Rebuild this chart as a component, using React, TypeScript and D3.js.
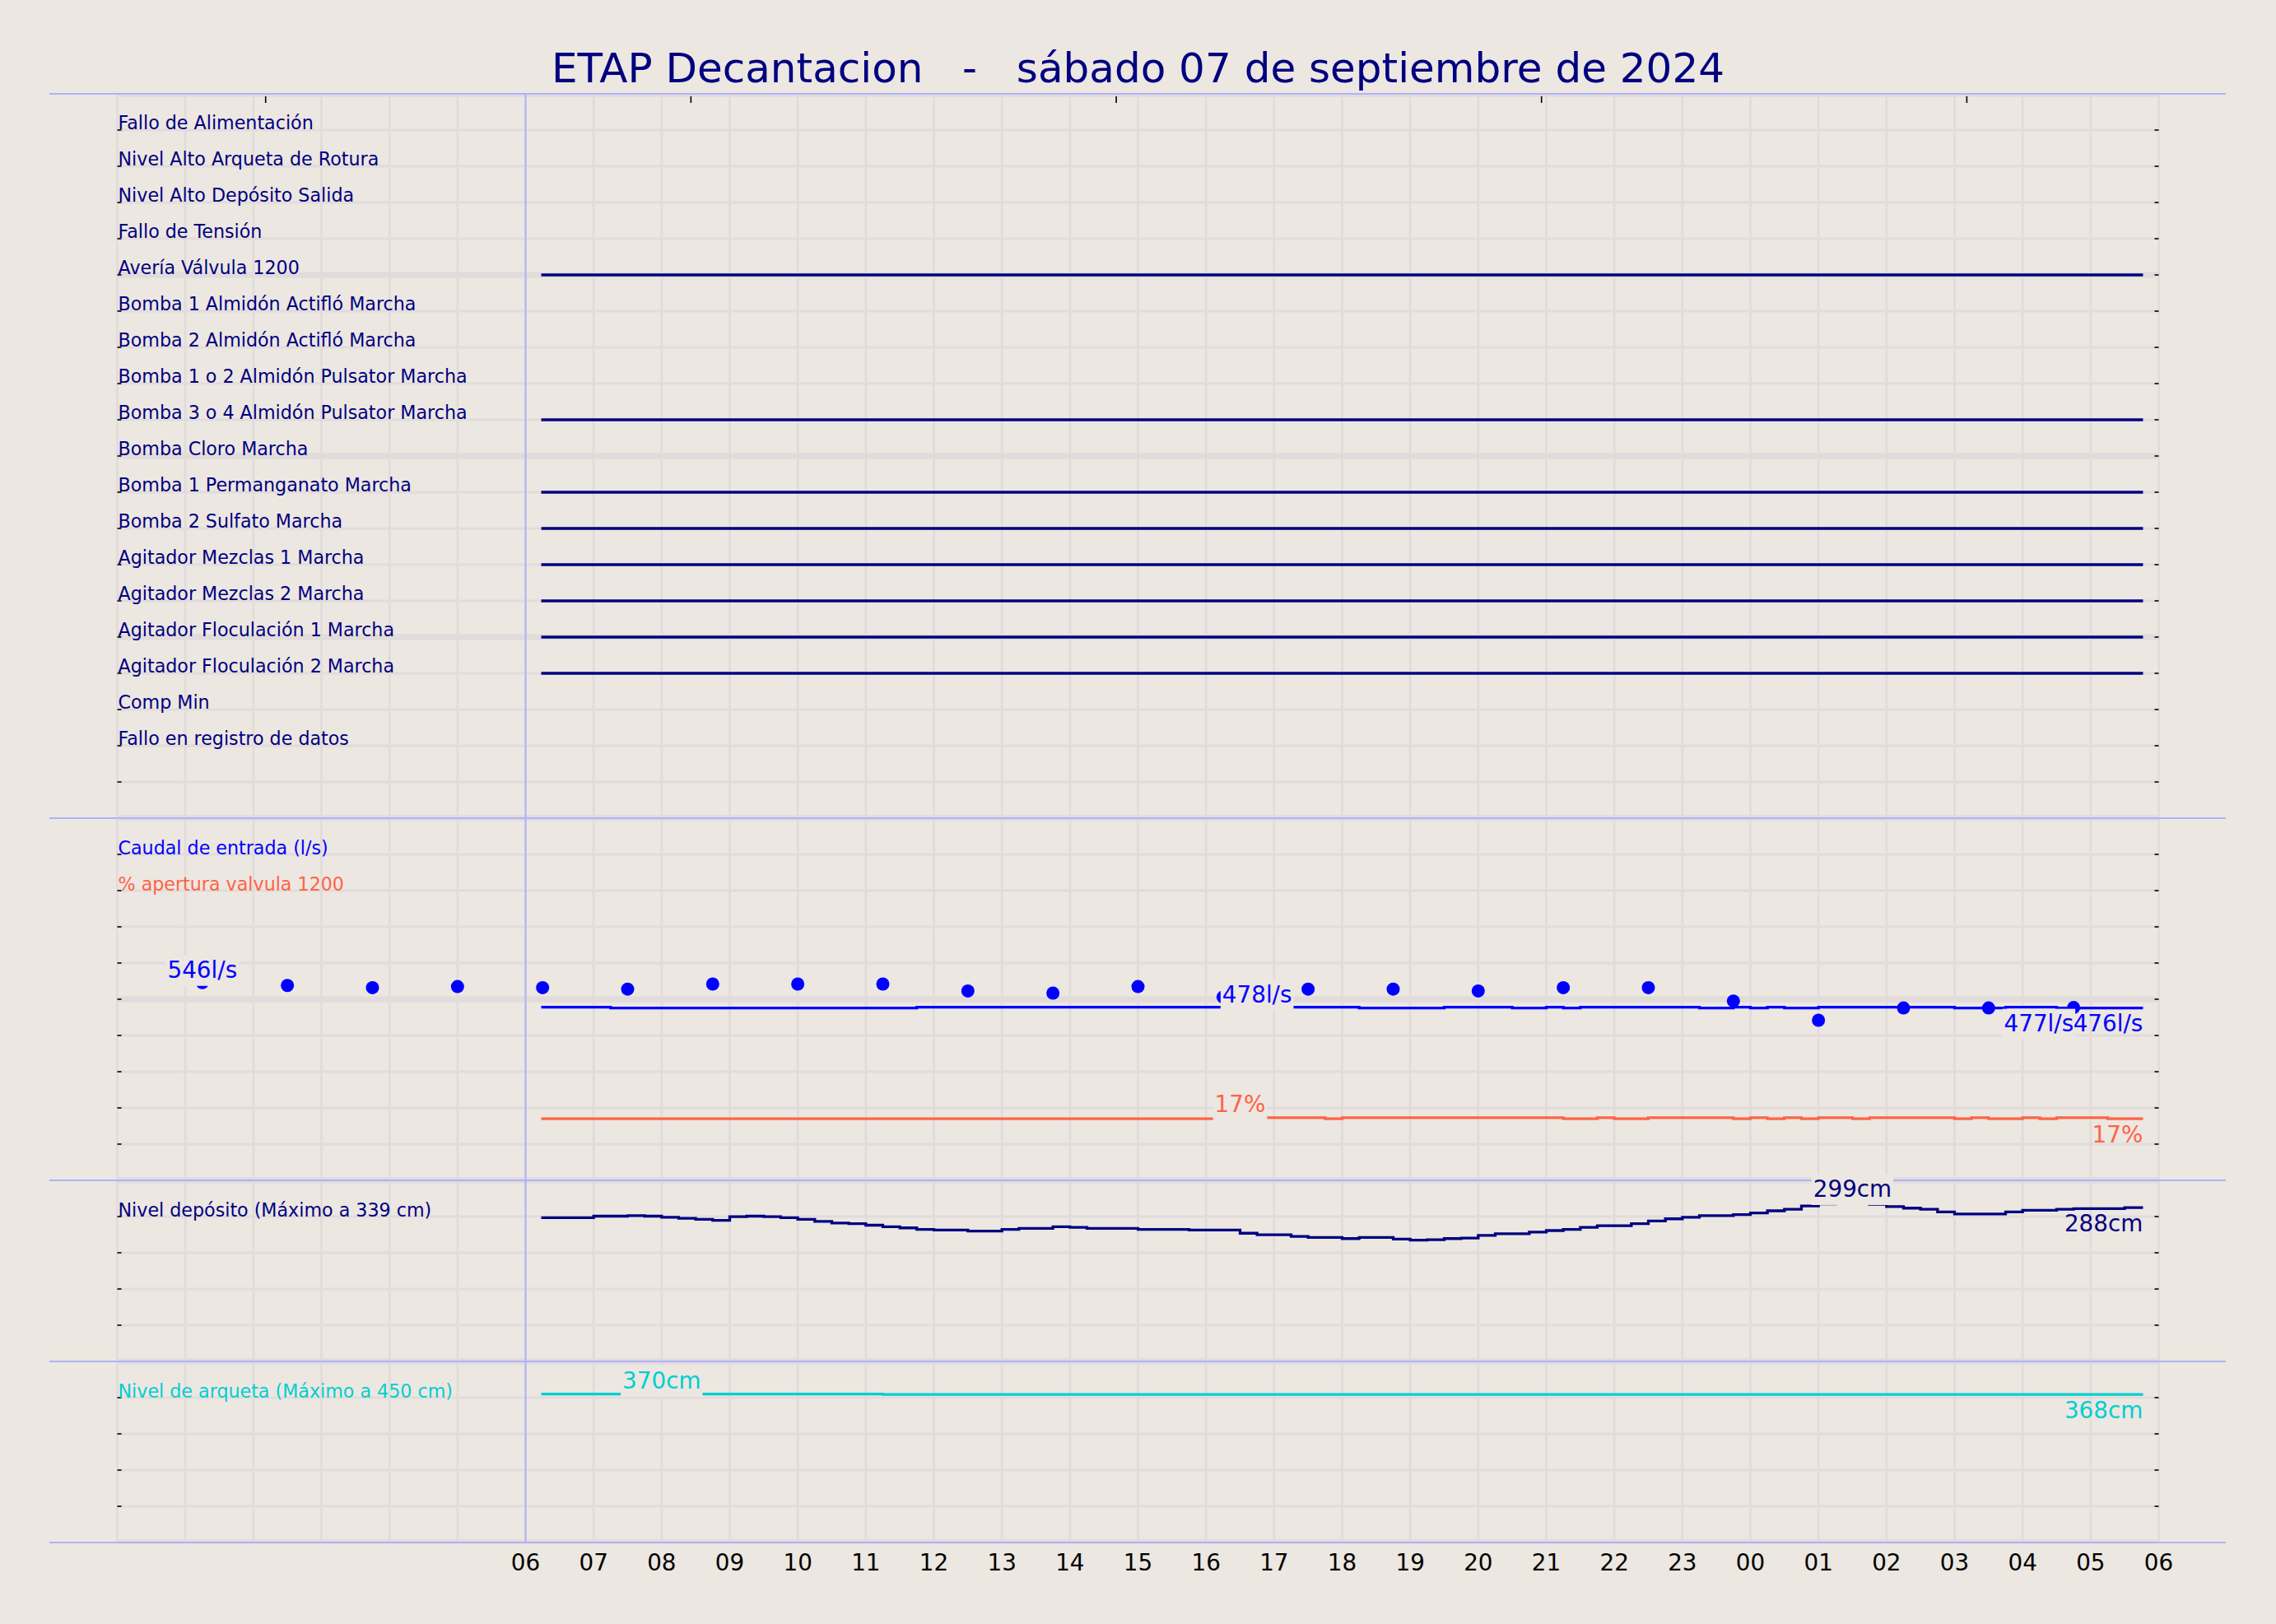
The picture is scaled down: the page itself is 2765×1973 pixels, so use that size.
import React, { useEffect, useRef } from 'react'
import * as d3 from 'd3'

// ---- datos ----
const TITLE = 'ETAP Decantacion   -   sábado 07 de septiembre de 2024'
const DAY0 = Date.UTC(2024, 8, 7) // 07/09/2024 00:00

const alarmLabels = [
	'Fallo de Alimentación',
	'Nivel Alto Arqueta de Rotura',
	'Nivel Alto Depósito Salida',
	'Fallo de Tensión',
	'Avería Válvula 1200',
	'Bomba 1 Almidón Actifló Marcha',
	'Bomba 2 Almidón Actifló Marcha',
	'Bomba 1 o 2 Almidón Pulsator Marcha',
	'Bomba 3 o 4 Almidón Pulsator Marcha',
	'Bomba Cloro Marcha',
	'Bomba 1 Permanganato Marcha',
	'Bomba 2 Sulfato Marcha',
	'Agitador Mezclas 1 Marcha',
	'Agitador Mezclas 2 Marcha',
	'Agitador Floculación 1 Marcha',
	'Agitador Floculación 2 Marcha',
	'Comp Min',
	'Fallo en registro de datos',
]
const alarmOn = [0, 0, 0, 0, 1, 0, 0, 0, 1, 0, 1, 1, 1, 1, 1, 1, 0, 0]

// registros cada 15 min desde las 06:15
const sampleStart = 6.25
const sampleStep = 0.25

const caudal = [
	478, 478, 478, 478, 476, 476, 476, 476, 476, 476,
	476, 476, 476, 476, 476, 476, 476, 476, 476, 476,
	476, 476, 478, 478, 478, 478, 478, 478, 478, 478,
	478, 478, 478, 478, 478, 478, 478, 478, 478, 478,
	478, 478, 478.3, 478, 478, 478, 478, 478, 476, 476,
	476, 476, 476, 478, 478, 478, 478, 476, 476, 478,
	476, 478, 478, 478, 478, 478, 478, 478, 476, 476,
	478, 476, 478, 476, 476, 478, 478, 478, 478, 478,
	478, 478, 478, 476, 476, 476, 478, 478, 478, 476,
	476, 476, 476, 476, 476,
]

const apertura = [
	17, 17, 17, 17, 17, 17, 17, 17, 17, 17,
	17, 17, 17, 17, 17, 17, 17, 17, 17, 17,
	17, 17, 17, 17, 17, 17, 17, 17, 17, 17,
	17, 17, 17, 17, 17, 17, 17, 17, 17, 17,
	17.3, 17.4, 17.3, 17.3, 17.3, 17.3, 17, 17.3, 17.3, 17.3,
	17.3, 17.3, 17.3, 17.3, 17.3, 17.3, 17.3, 17.3, 17.3, 17.3,
	17, 17, 17.3, 17, 17, 17.3, 17.3, 17.3, 17.3, 17.3,
	17, 17.3, 17, 17.3, 17, 17.3, 17.3, 17, 17.3, 17.3,
	17.3, 17.3, 17.3, 17, 17.3, 17, 17, 17.3, 17, 17.3,
	17.3, 17.3, 17, 17, 17,
]

const deposito = [
	269, 269, 269, 272, 272, 273, 272, 270, 268, 266,
	264, 271, 272, 271, 269, 266, 262, 259, 258, 255,
	252, 250, 247, 246, 246, 244, 244, 247, 249, 249,
	252, 251, 249, 249, 249, 247, 247, 247, 246, 246,
	246, 240, 237, 237, 234, 232, 232, 230, 232, 232,
	229, 227, 228, 230, 231, 236, 239, 239, 242, 245,
	247, 251, 254, 254, 258, 263, 267, 270, 273, 273,
	275, 278, 282, 285, 291, 295, 297, 299, 294, 290,
	287, 285, 280, 276, 276, 276, 280, 283, 283, 285,
	286, 286, 286, 288, 288,
]

const arqueta = [
	369, 369, 369, 369, 369, 369, 369, 370, 369, 369,
	369, 369, 369, 369, 369, 369, 369, 369, 369, 369,
	368, 368, 368, 368, 368, 368, 368, 368, 368, 368,
	368, 368, 368, 368, 368, 368, 368, 368, 368, 368,
	368, 368, 368, 368, 368, 368, 368, 368, 368, 368,
	368, 368, 368, 368, 368, 368, 368, 368, 368, 368,
	368, 368, 368, 368, 368, 368, 368, 368, 368, 368,
	368, 368, 368, 368, 368, 368, 368, 368, 368, 368,
	368, 368, 368, 368, 368, 368, 368, 368, 368, 368,
	368, 368, 368, 368, 368,
]

// caudal puntual (cada 75 min)
const dotHours = [1.25, 2.5, 3.75, 5, 6.25, 7.5, 8.75, 10, 11.25, 12.5, 13.75, 15, 16.25, 17.5, 18.75, 20, 21.25, 22.5, 23.75, 25, 26.25, 27.5, 28.75]
const dotValues = [546, 538, 532, 535, 532, 528, 542, 542, 542, 523, 517, 535, 506, 528, 528, 523, 532, 532, 495, 442, 476, 476, 477]

const xTickHours = [6, 7, 8, 9, 10, 11, 12, 13, 14, 15, 16, 17, 18, 19, 20, 21, 22, 23, 24, 25, 26, 27, 28, 29, 30]
const topTickHours = [2.18, 8.43, 14.68, 20.93, 27.18]

// ---- estilo ----
const W = 2765
const H = 1973
const BG = '#ECE7E1'
const GRID = '#E1DCDB'
const SEP = '#B0B0FF'
const NAVY = '#000080'
const BLUE = '#0000FF'
const TOMATO = '#FF6347'
const TURQ = '#00CED1'
const FONT = 'DejaVu Sans'

const hourDate = (h: number) => new Date(DAY0 + h * 3600e3)

const App = () => {
	const svgRef = useRef<SVGSVGElement>(null)

	useEffect(() => {
		const svg = d3.select(svgRef.current)
		svg.selectAll('*').remove()
		svg.attr('width', W).attr('height', H).style('font-family', FONT)

		const left = 142.5
		const right = 2622.5
		const top = 114
		const bottom = 1874

		const x = d3.scaleUtc().domain([hourDate(0), hourDate(30)]).range([left, right])
		const rowY = d3.scaleLinear().domain([0, 40]).range([top, bottom])

		const caudalY = d3.scaleLinear().domain([0, 1000]).range([rowY(30), rowY(20)])
		const pctY = d3.scaleLinear().domain([0, 100]).range([rowY(30), rowY(20)])
		const depY = d3.scaleLinear().domain([0, 339]).range([rowY(35), rowY(30)])
		const arqY = d3.scaleLinear().domain([0, 450]).range([rowY(40), rowY(35)])

		const samples = caudal.map((_, i) => hourDate(sampleStart + i * sampleStep))

		svg.append('rect').attr('width', W).attr('height', H).attr('fill', BG)

		// rejilla
		const grid = svg.append('g')
		grid
			.selectAll('.vgrid')
			.data(x.ticks(d3.utcHour.every(1)!))
			.enter()
			.append('line')
			.attr('x1', d => x(d))
			.attr('x2', d => x(d))
			.attr('y1', top)
			.attr('y2', bottom)
			.attr('stroke', GRID)
			.attr('stroke-width', 2.8)
		grid
			.selectAll('.hgrid')
			.data(d3.range(0, 41))
			.enter()
			.append('line')
			.attr('x1', left)
			.attr('x2', right)
			.attr('y1', d => rowY(d))
			.attr('y2', d => rowY(d))
			.attr('stroke', GRID)
			.attr('stroke-width', d => (d % 5 === 0 ? 7.5 : 2.8))
		// recortar bandas en los bordes
		svg.append('rect').attr('x', left).attr('y', top - 6).attr('width', right - left).attr('height', 6).attr('fill', BG)
		svg.append('rect').attr('x', left).attr('y', bottom + 1.5).attr('width', right - left).attr('height', 6).attr('fill', BG)

		// separadores
		const seps = [0, 20, 30, 35, 40]
		svg
			.selectAll('.sep')
			.data(seps)
			.enter()
			.append('line')
			.attr('x1', 60)
			.attr('x2', 2704)
			.attr('y1', d => rowY(d))
			.attr('y2', d => rowY(d))
			.attr('stroke', SEP)
			.attr('stroke-width', 2)
		svg
			.append('line')
			.attr('x1', x(hourDate(6)))
			.attr('x2', x(hourDate(6)))
			.attr('y1', top)
			.attr('y2', bottom)
			.attr('stroke', SEP)
			.attr('stroke-width', 2)

		// marcas de los ejes
		const tickRows = d3.range(1, 40).filter(r => !seps.includes(r))
		const ticks = svg.append('g').attr('stroke', '#000').attr('stroke-width', 1.6)
		tickRows.forEach(r => {
			ticks.append('line').attr('x1', left).attr('x2', left + 5).attr('y1', rowY(r)).attr('y2', rowY(r))
			ticks.append('line').attr('x1', right - 5).attr('x2', right).attr('y1', rowY(r)).attr('y2', rowY(r))
		})
		topTickHours.forEach(h => {
			ticks
				.append('line')
				.attr('x1', x(hourDate(h)))
				.attr('x2', x(hourDate(h)))
				.attr('y1', top + 3)
				.attr('y2', top + 11)
		})

		// etiquetas de alarmas
		const labels = svg.append('g').attr('font-size', 22.2)
		alarmLabels.forEach((name, i) => {
			labels
				.append('text')
				.attr('x', left + 1)
				.attr('y', rowY(i + 1) - 1)
				.attr('fill', NAVY)
				.text(name)
		})
		const panelText: [string, string, number][] = [
			['Caudal de entrada (l/s)', BLUE, 21],
			['% apertura valvula 1200', TOMATO, 22],
			['Nivel depósito (Máximo a 339 cm)', NAVY, 31],
			['Nivel de arqueta (Máximo a 450 cm)', TURQ, 36],
		]
		panelText.forEach(([t, c, r]) => {
			labels.append('text').attr('x', left + 1).attr('y', rowY(r) - 0.5).attr('fill', c).text(t)
		})

		// alarmas activas
		const alarmLine = d3
			.line<Date>()
			.x(d => x(d))
			.y(0)
		alarmOn.forEach((on, i) => {
			if (!on) return
			svg
				.append('path')
				.datum([samples[0], samples[samples.length - 1]])
				.attr('transform', `translate(0, ${rowY(i + 1)})`)
				.attr('d', alarmLine)
				.attr('fill', 'none')
				.attr('stroke', NAVY)
				.attr('stroke-width', 3.3)
				.attr('stroke-linecap', 'square')
		})

		// puntos de caudal
		svg
			.selectAll('.dot')
			.data(dotHours)
			.enter()
			.append('circle')
			.attr('cx', d => x(hourDate(d)))
			.attr('cy', (_, i) => caudalY(dotValues[i]))
			.attr('r', 8)
			.attr('fill', BLUE)

		const drawStep = (values: number[], y: d3.ScaleLinear<number, number>, color: string) => {
			const line = d3
				.line<number>()
				.x((_, i) => x(samples[i]))
				.y(d => y(d))
				.curve(d3.curveStepAfter)
			svg
				.append('path')
				.datum(values)
				.attr('d', line)
				.attr('fill', 'none')
				.attr('stroke', color)
				.attr('stroke-width', 3.3)
				.attr('stroke-linecap', 'square')
		}
		drawStep(caudal, caudalY, BLUE)
		drawStep(apertura, pctY, TOMATO)
		drawStep(deposito, depY, NAVY)
		drawStep(arqueta, arqY, TURQ)

		// anotaciones
		const notes = svg.append('g').attr('font-size', 27.8)
		const note = (px: number, py: number, text: string, color: string, anchor: string, box: boolean) => {
			const t = notes
				.append('text')
				.attr('x', px)
				.attr('y', py)
				.attr('text-anchor', anchor)
				.attr('fill', color)
				.text(text)
			if (box) {
				const bb = (t.node() as SVGTextElement).getBBox()
				notes
					.insert('rect', () => t.node())
					.attr('x', bb.x - 2)
					.attr('y', bb.y - 1)
					.attr('width', bb.width + 4)
					.attr('height', bb.height + 4)
					.attr('fill', BG)
			}
		}
		const maxNote = (values: number[], y: d3.ScaleLinear<number, number>, unit: string, color: string) => {
			const i = d3.maxIndex(values)
			note(x(samples[i]), y(values[i]) - 6, `${Math.round(values[i])}${unit}`, color, 'middle', true)
		}
		const lastNote = (values: number[], y: d3.ScaleLinear<number, number>, unit: string, color: string) => {
			const i = values.length - 1
			note(x(samples[i]) + 1.5, y(values[i]) + 28.5, `${Math.round(values[i])}${unit}`, color, 'end', false)
		}

		const di = d3.maxIndex(dotValues)
		note(x(hourDate(dotHours[di])), caudalY(dotValues[di]) - 6, `${dotValues[di]}l/s`, BLUE, 'middle', true)
		const dl = dotValues.length - 1
		note(x(hourDate(dotHours[dl])), caudalY(dotValues[dl]) + 28.5, `${dotValues[dl]}l/s`, BLUE, 'end', true)

		maxNote(caudal, caudalY, 'l/s', BLUE)
		lastNote(caudal, caudalY, 'l/s', BLUE)
		maxNote(apertura, pctY, '%', TOMATO)
		lastNote(apertura, pctY, '%', TOMATO)
		maxNote(deposito, depY, 'cm', NAVY)
		lastNote(deposito, depY, 'cm', NAVY)
		maxNote(arqueta, arqY, 'cm', TURQ)
		lastNote(arqueta, arqY, 'cm', TURQ)

		// eje x
		const fmt = d3.utcFormat('%H')
		svg
			.append('g')
			.attr('font-size', 27.8)
			.attr('text-anchor', 'middle')
			.selectAll('text')
			.data(xTickHours)
			.enter()
			.append('text')
			.attr('x', d => x(hourDate(d)))
			.attr('y', 1908)
			.attr('fill', '#000')
			.text(d => fmt(hourDate(d)))

		// titulo
		svg
			.append('text')
			.attr('x', W / 2)
			.attr('y', 100)
			.attr('text-anchor', 'middle')
			.attr('font-size', 50)
			.attr('fill', NAVY)
			.attr('xml:space', 'preserve')
			.style('white-space', 'pre')
			.text(TITLE)
	}, [])

	return <svg ref={svgRef} style={{ position: 'absolute', left: 0, top: 0, display: 'block' }}></svg>
}

export default App
